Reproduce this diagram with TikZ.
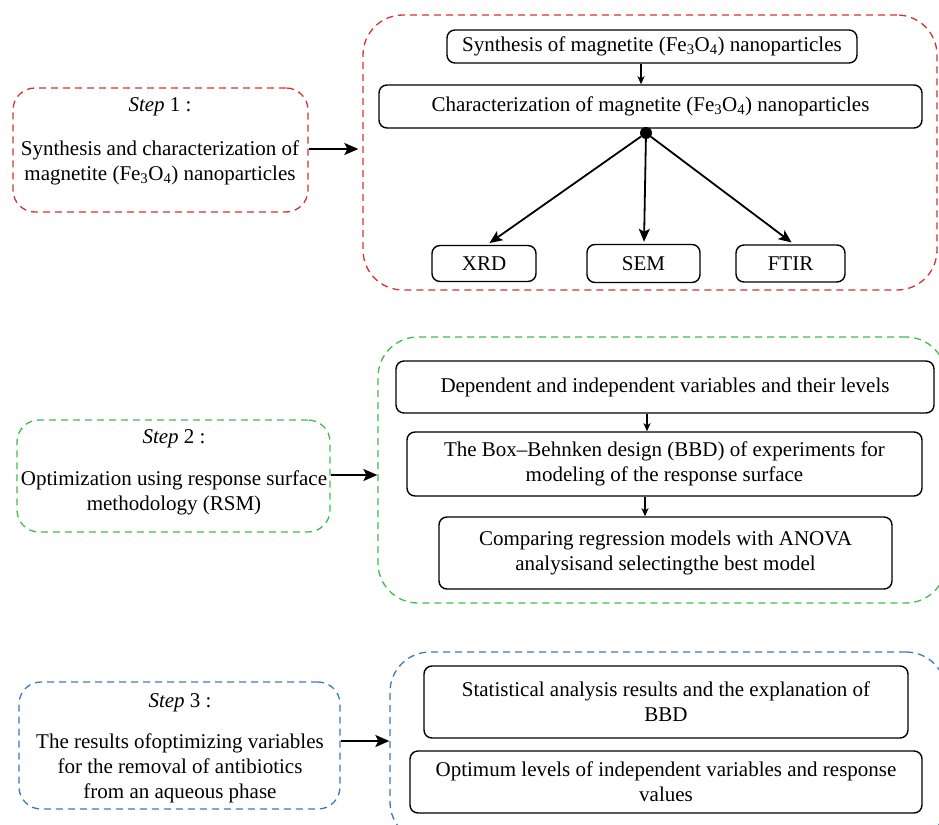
\documentclass[tikz,border=0pt]{standalone}
\usepackage{fontspec}
\setmainfont{Liberation Serif}
\usetikzlibrary{arrows.meta}
\definecolor{redd}{RGB}{214,50,44}
\definecolor{greend}{RGB}{62,190,72}
\definecolor{blued}{RGB}{60,120,195}
\tikzset{
 every node/.style={font=\fontsize{21}{25}\selectfont, inner sep=0pt},
 box/.style={draw=black, line width=1.4pt, rounded corners=8pt, align=center},
 stepbox/.style={dash pattern=on 7pt off 5pt, line width=1.3pt, rounded corners=22pt},
 contbox/.style={dash pattern=on 7pt off 5pt, line width=1.3pt, rounded corners=40pt},
 bigarrow/.style={line width=2pt, -{Stealth[length=14pt,width=12pt,inset=3pt]}},
 midarrow/.style={line width=1.8pt, -{Stealth[length=13pt,width=11pt,inset=3pt]}},
 smallarrow/.style={line width=1.3pt, -{Stealth[length=8pt,width=7pt,inset=2pt]}},
}
\begin{document}
\begin{tikzpicture}[x=1pt,y=-1pt]
\useasboundingbox (0,0) rectangle (939,824);
\clip (0,0) rectangle (939,824);
% ---------- Step 1 ----------
\node[stepbox, draw=redd, minimum width=295pt, minimum height=124pt] (s1) at (160.5,150) {};
\node[anchor=base] (s1h) at (160,112) {\textit{Step} 1 :};
\node[align=center] (s1t) at (160,162.5) {Synthesis and characterization of\\ magnetite (Fe\textsubscript{3}O\textsubscript{4}) nanoparticles};
\node[contbox, draw=redd, minimum width=574pt, minimum height=275pt] (c1) at (650,152.5) {};
\draw[bigarrow, shorten >=4pt] (s1.east |- 0,149) -- (c1.west |- 0,149);
\node[box, minimum width=410pt, minimum height=33pt] (syn) at (652,46.5) {Synthesis of magnetite (Fe\textsubscript{3}O\textsubscript{4}) nanoparticles};
\node[box, minimum width=543pt, minimum height=43pt] (char) at (650.5,106.5) {Characterization of magnetite (Fe\textsubscript{3}O\textsubscript{4}) nanoparticles};
\draw[smallarrow] (syn.south -| 641,0) -- (char.north -| 641,0);
\node[circle, fill=black, minimum size=12pt] (dot) at (646,133) {};
\node[box, minimum width=104pt, minimum height=36pt] (xrd) at (484,263.5) {XRD};
\node[box, minimum width=113pt, minimum height=38pt] (sem) at (643.5,263.5) {SEM};
\node[box, minimum width=109pt, minimum height=37pt] (ftir) at (790.5,263.5) {FTIR};
\draw[midarrow, shorten >=3pt] (dot) -- (xrd.north -| 487,0);
\draw[midarrow, shorten >=2pt] (dot) -- (sem.north -| 644,0);
\draw[midarrow, shorten >=3pt] (dot) -- (ftir.north -| 794,0);
% ---------- Step 2 ----------
\node[stepbox, draw=greend, minimum width=313pt, minimum height=112pt] (s2) at (173.5,476) {};
\node[anchor=base] (s2h) at (174,443) {\textit{Step} 2 :};
\node[align=center] (s2t) at (174,493) {Optimization using response surface\\ methodology (RSM)};
\node[contbox, draw=greend, minimum width=568pt, minimum height=266pt] (c2) at (662,470) {};
\draw[bigarrow] (s2.east |- 0,475) -- (c2.west |- 0,475);
\node[box, minimum width=538pt, minimum height=52pt] (dep) at (665,387) {Dependent and independent variables and their levels};
\node[box, minimum width=515pt, minimum height=64pt] (bbd) at (664.5,464) {The Box–Behnken design (BBD) of experiments for\\ modeling of the response surface};
\node[box, minimum width=453pt, minimum height=72pt] (cmp) at (665.5,553) {Comparing regression models with ANOVA\\ analysisand selectingthe best model};
\draw[smallarrow] (dep.south -| 647,0) -- (bbd.north -| 647,0);
\draw[smallarrow] (bbd.south -| 645,0) -- (cmp.north -| 645,0);
% ---------- Step 3 ----------
\node[stepbox, draw=blued, minimum width=321pt, minimum height=127pt] (s3) at (179.5,745.5) {};
\node[anchor=base] (s3h) at (180,707) {\textit{Step} 3 :};
\node[align=center] (s3t) at (180,768) {The results ofoptimizing variables\\ for the removal of antibiotics\\ from an aqueous phase};
\node[contbox, draw=blued, minimum width=556pt, minimum height=190pt] (c3) at (668,747) {};
\draw[bigarrow] (s3.east |- 0,741) -- (c3.west |- 0,741);
\node[box, minimum width=484pt, minimum height=72pt] (stat) at (666,702) {Statistical analysis results and the explanation of\\ BBD};
\node[box, minimum width=512pt, minimum height=62pt] (opt) at (666,782) {Optimum levels of independent variables and response\\ values};
\end{tikzpicture}
\end{document}
